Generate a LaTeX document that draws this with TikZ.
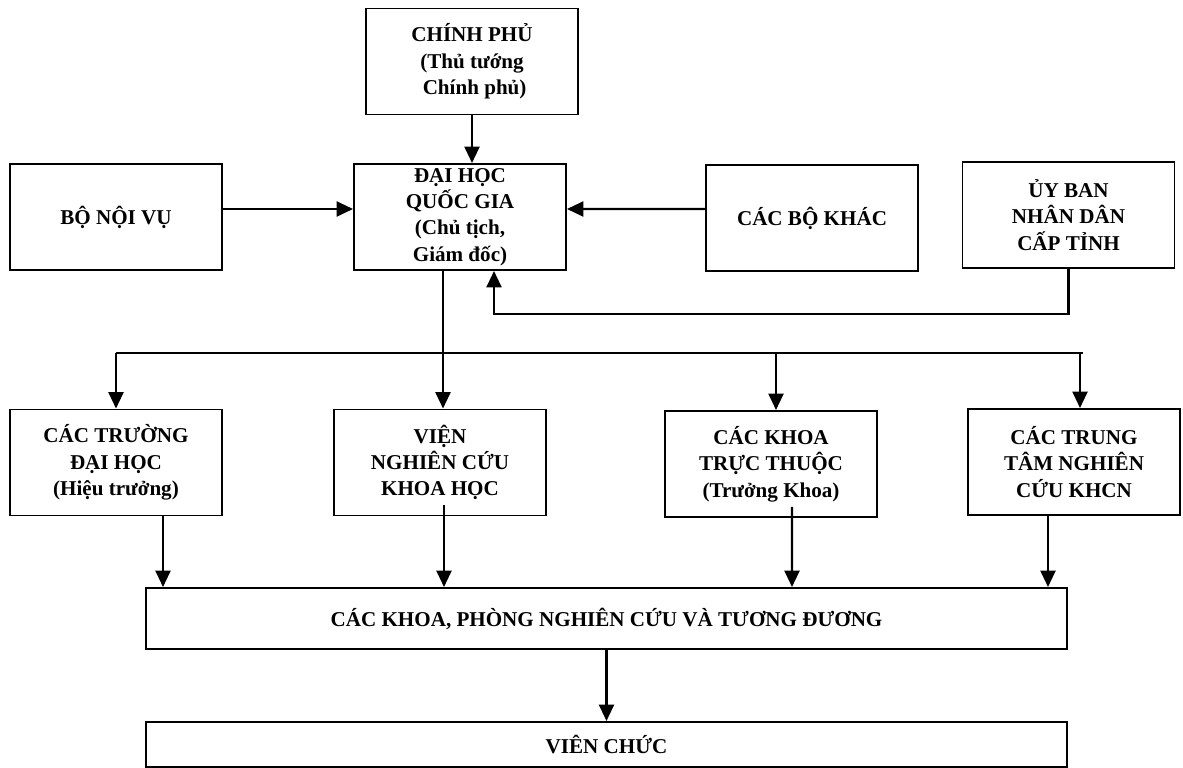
\documentclass[tikz,border=0pt]{standalone}
\usepackage{fontspec}
\setmainfont{Liberation Serif}
\usetikzlibrary{arrows.meta,positioning}

\begin{document}
\begin{tikzpicture}[
    box/.style={draw, line width=1.1pt, minimum width=4.24cm, minimum height=2.12cm, align=center, inner sep=0pt, font=\bfseries\fontsize{12}{15}\selectfont},
    wide/.style={box, minimum width=18.42cm},
    arr/.style={line width=1.4pt, -{Triangle[width=3mm,length=3.3mm]}},
    ln/.style={line width=1.4pt},
]
\useasboundingbox (0,0) rectangle (23.66,-15.36);

% Top level
\node[box] (cp) at (9.44,-1.23) {CHÍNH PHỦ\\(Thủ tướng\\\ Chính phủ)};
\node[box] (dhqg) at (9.20,-4.34) {ĐẠI HỌC\\QUỐC GIA\\(Chủ tịch,\\Giám đốc)};
\node[box] (bnv) at (2.32,-4.34) {BỘ NỘI VỤ};
\node[box] (cbk) at (16.24,-4.36) {CÁC BỘ KHÁC};
\node[box] (ubnd) at (21.37,-4.30) {ỦY BAN\\NHÂN DÂN\\CẤP TỈNH};

% Units
\node[box] (ctdh) at (2.32,-9.25) {CÁC TRƯỜNG\\ĐẠI HỌC\\(Hiệu trưởng)};
\node[box] (vien) at (8.80,-9.25) {VIỆN\\NGHIÊN CỨU\\KHOA HỌC};
\node[box] (ckhoa) at (15.42,-9.28) {CÁC KHOA\\TRỰC THUỘC\\(Trưởng Khoa)};
\node[box] (cttam) at (21.48,-9.24) {CÁC TRUNG\\TÂM NGHIÊN\\CỨU KHCN};

% Bottom
\node[wide, minimum height=1.22cm] (phong) at (12.13,-12.37) {CÁC KHOA, PHÒNG NGHIÊN CỨU VÀ TƯƠNG ĐƯƠNG};
\node[wide, minimum height=0.90cm] (vc) at (12.13,-14.89) {VIÊN CHỨC};

% Arrows into DHQG
\draw[arr] (cp.south) -- (cp.south |- dhqg.north);
\draw[arr] ([yshift=1.6mm]bnv.east) -- ([yshift=1.6mm]dhqg.west);
\draw[arr] ([yshift=1.8mm]cbk.west) -- ([yshift=1.6mm]dhqg.east);
\draw[arr] (ubnd.south) -- ++(0,-0.9) -| ([xshift=0.68cm]dhqg.south);

% Bus
\coordinate (busL) at (2.32,-7.06);
\coordinate (busR) at (21.66,-7.06);
\coordinate (b3) at (15.52,-7.06);
\coordinate (b4) at (21.60,-7.06);
\draw[ln] (busL) -- (busR);
\draw[arr] ([xshift=-0.34cm]dhqg.south) -- ([xshift=-0.34cm]dhqg.south |- vien.north);
\draw[arr] (busL) -- (ctdh.north);
\draw[arr] (b3) -- (b3 |- ckhoa.north);
\draw[arr] (b4) -- (b4 |- cttam.north);

% Arrows into phong
\draw[arr] ([xshift=0.94cm]ctdh.south) -- ([xshift=0.94cm]ctdh.south |- phong.north);
\draw[arr] ([shift={(0.08,0.22)}]vien.south) -- ([xshift=0.08cm]vien.south |- phong.north);
\draw[arr] ([shift={(0.42,0.22)}]ckhoa.south) -- ([xshift=0.42cm]ckhoa.south |- phong.north);
\draw[arr] ([xshift=-0.52cm]cttam.south) -- ([xshift=-0.52cm]cttam.south |- phong.north);
\draw[arr] (phong.south) -- (vc.north);

\end{tikzpicture}
\end{document}
